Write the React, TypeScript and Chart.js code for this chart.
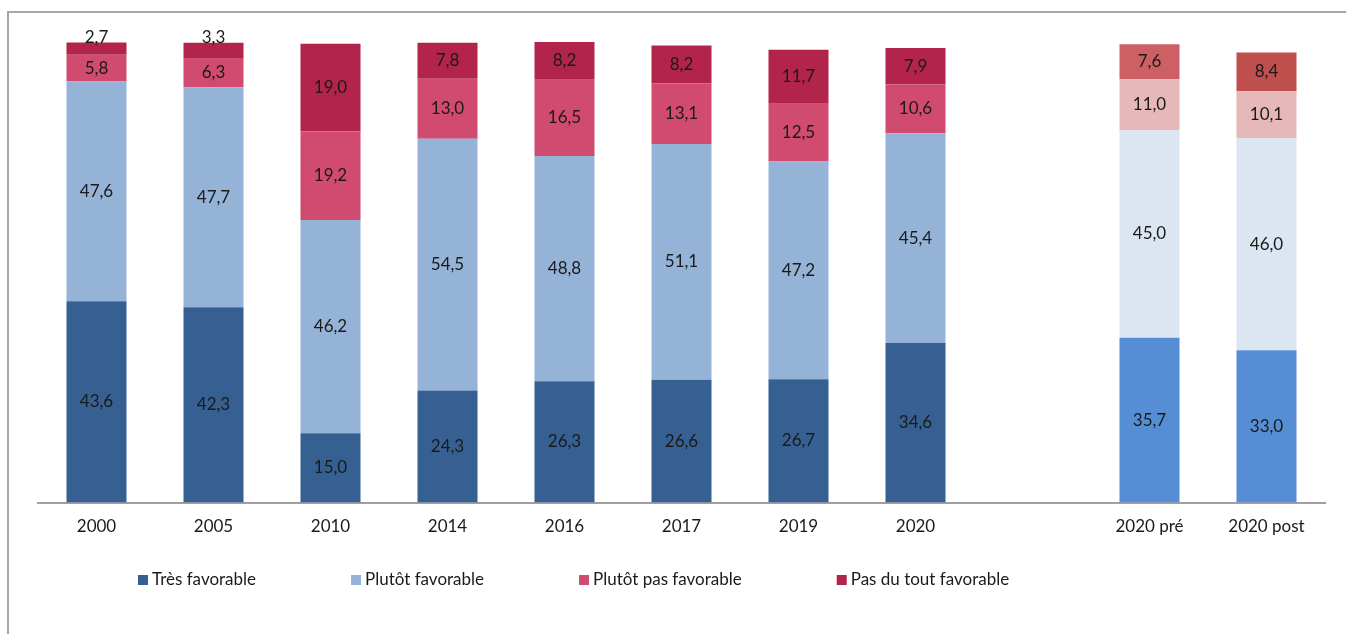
import React, { useEffect, useRef } from "react";
import { Chart, registerables } from "chart.js";

Chart.register(...registerables);

const categories = ["2000", "2005", "2010", "2014", "2016", "2017", "2019", "2020", "", "2020 pré", "2020 post"];
const tresFavorable = [43.6, 42.3, 15.0, 24.3, 26.3, 26.6, 26.7, 34.6, null, 35.7, 33.0];
const plutotFavorable = [47.6, 47.7, 46.2, 54.5, 48.8, 51.1, 47.2, 45.4, null, 45.0, 46.0];
const plutotPasFavorable = [5.8, 6.3, 19.2, 13.0, 16.5, 13.1, 12.5, 10.6, null, 11.0, 10.1];
const pasDuToutFavorable = [2.7, 3.3, 19.0, 7.8, 8.2, 8.2, 11.7, 7.9, null, 7.6, 8.4];
const seriesNames = ["Très favorable", "Plutôt favorable", "Plutôt pas favorable", "Pas du tout favorable"];

const FONT = "Lato, 'Open Sans', sans-serif";
const FS = 17;

const mainColors = ["#366092", "#95B3D7", "#D14A6F", "#B2244C"];
const colorsPre = ["#558ED5", "#DCE6F2", "#E6B9B8", "#CD6064"];
const colorsPost = ["#558ED5", "#DCE6F2", "#E6B9B8", "#C0504D"];

function colorsFor(s: number) {
  return categories.map((c, i) => (i === 9 ? colorsPre[s] : i === 10 ? colorsPost[s] : mainColors[s]));
}

const fmt = (v: number) => v.toFixed(1).replace(".", ",");

const labelPlugin = {
  id: "segLabels",
  afterDatasetsDraw(chart: any) {
    const ctx = chart.ctx;
    ctx.save();
    ctx.font = `${FS}px ${FONT}`;
    ctx.fillStyle = "#1a1a1a";
    ctx.textAlign = "center";
    ctx.textBaseline = "middle";
    chart.data.datasets.forEach((ds: any, di: number) => {
      const meta = chart.getDatasetMeta(di);
      meta.data.forEach((bar: any, i: number) => {
        const v = ds.data[i];
        if (v == null) return;
        const top = Math.min(bar.y, bar.base);
        const h = Math.abs(bar.base - bar.y);
        const y = h < 16 ? top - 5 : (bar.y + bar.base) / 2;
        ctx.fillText(fmt(v), bar.x, y);
      });
    });
    ctx.restore();
  },
};

const legendPlugin = {
  id: "customLegend",
  afterDraw(chart: any) {
    const ctx = chart.ctx;
    ctx.save();
    ctx.font = `${FS}px ${FONT}`;
    ctx.textBaseline = "middle";
    ctx.textAlign = "left";
    let x = 138;
    const y = 580;
    seriesNames.forEach((name, i) => {
      ctx.fillStyle = mainColors[i];
      ctx.fillRect(x, y - 5, 10, 10);
      ctx.fillStyle = "#1a1a1a";
      ctx.fillText(name, x + 14, y);
      x += 14 + ctx.measureText(name).width + 95;
    });
    ctx.restore();
  },
};

export default function App() {
  const ref = useRef<HTMLCanvasElement>(null);
  useEffect(() => {
    if (!ref.current) return;
    const data = [tresFavorable, plutotFavorable, plutotPasFavorable, pasDuToutFavorable];
    const chart = new Chart(ref.current, {
      type: "bar",
      data: {
        labels: categories,
        datasets: data.map((d, s) => ({
          label: seriesNames[s],
          data: d,
          backgroundColor: colorsFor(s),
          borderWidth: 0,
          categoryPercentage: 1,
          barPercentage: 0.513,
        })),
      },
      options: {
        animation: false,
        responsive: false,
        maintainAspectRatio: false,
        layout: { padding: { left: 38, right: 21, top: 41, bottom: 91 } },
        plugins: { legend: { display: false }, tooltip: { enabled: false } },
        scales: {
          x: {
            stacked: true,
            grid: { display: false },
            border: { display: true, color: "#A0A0A0", width: 2 },
            ticks: { font: { family: FONT, size: FS }, color: "#1a1a1a", padding: 6, maxRotation: 0, autoSkip: false },
          },
          y: { stacked: true, display: false, min: 0, max: 100 },
        },
      },
      plugins: [labelPlugin, legendPlugin],
    });
    return () => chart.destroy();
  }, []);
  return (
    <div style={{ position: "fixed", left: 0, top: 0, width: 1346, height: 634, background: "#fff", overflow: "hidden" }}>
      <div
        style={{
          position: "absolute",
          left: 7,
          top: 11,
          width: 1400,
          height: 700,
          borderTop: "2px solid #A6A6A6",
          borderLeft: "2px solid #A6A6A6",
        }}
      />
      <canvas ref={ref} width={1346} height={634} style={{ position: "absolute", left: 0, top: 0 }} />
    </div>
  );
}
